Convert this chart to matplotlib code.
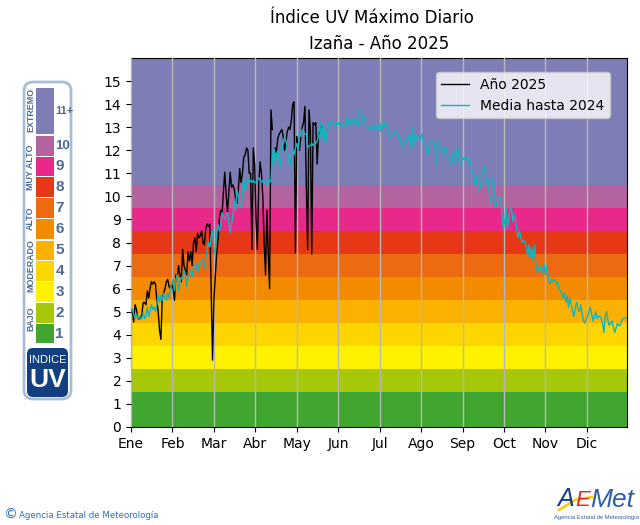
import matplotlib
matplotlib.use('Agg')
import matplotlib.pyplot as plt
from matplotlib.patches import FancyBboxPatch, Rectangle
import numpy as np

nan = float('nan')

monthLabels = ['Ene', 'Feb', 'Mar', 'Abr', 'May', 'Jun', 'Jul', 'Ago', 'Sep', 'Oct', 'Nov', 'Dic']

# UV 2025, one value a day, stops mid May
uv2025 = [5.0, 5.1, 4.55, 5.3, 5.1, 4.7, 4.7, 4.7, 4.9, 5.4, 5.4,
          5.3, 5.9, 5.6, 6.0, 6.3, 6.2, 6.3, 6.2, 5.5, 5.0, 4.2, 3.8, 5.6, 5.8, 6.0,
          6.3, 6.4, 6.1, 6.0, 6.2, 6.0, 5.5, 6.6, 6.4, 7.0, 6.6, 6.3, 7.7, 7.0, 6.8,
          6.6, 7.6, 7.2, 7.6, 7.0, 8.0, 8.2, 7.6, 8.4, 8.2, 8.3, 8.5, 8.0, 7.9, 8.6,
          8.8, 8.7, 8.8, 6.0, 2.9, 5.5, 6.5, 7.5, 8.1, 9.0, 9.4, 9.2, 10.2, 11.05,
          10.1, 9.3, 10.2, 11.05, 10.4, 10.5, 10.3, 9.9, 9.7, 10.3, 11.2, 10.6, 11.0,
          11.7, 11.8, 12.1, 12.0, 11.0, 11.0, 7.7, 12.1, 11.4, 9.0, 7.7, 10.5, 11.5,
          11.0, 10.0, 8.0, 6.6, 9.4, 7.5, 6.0, 13.75, 12.9, nan, 12.1, 11.9, 12.5,
          12.7, 12.8, 12.9, 12.6, 12.0, 12.4, 12.8, 13.0, 12.9, 13.3, 14.0, 14.1, 7.55,
          12.6, 12.2, 12.0, 12.6, 13.0, 13.2, 13.9, 10.5, 7.7, 13.75, 12.9, 7.5, 13.2,
          13.1, 13.2, 11.4, 12.7, 12.8, 13.0]

# historic mean up to 2024, month by month
mediaEne = [5.0, 5.1, 4.9, 4.7, 4.9, 4.7, 4.8, 4.7, 4.7, 5.0, 4.7, 4.8, 5.2, 4.8, 5.0, 5.3,
            5.1, 5.2, 5.0, 5.3, 5.7, 5.4, 5.7, 5.5, 5.8, 5.6, 5.5, 5.8, 5.6, 6.0, 6.2]
mediaFeb = [6.4, 5.9, 6.4, 6.6, 5.9, 6.3, 6.5, 6.4, 6.8, 6.6, 6.1, 6.5, 6.6, 6.8, 6.5, 6.9,
            7.0, 7.1, 6.7, 7.0, 7.1, 7.2, 7.3, 6.9, 7.3, 7.7, 8.0, 7.8]
mediaMar = [8.3, 8.5, 7.8, 7.5, 8.4, 8.8, 8.5, 8.7, 9.3, 9.1, 9.0, 9.2, 9.3, 8.9, 8.4, 8.8,
            9.2, 9.8, 9.4, 10.3, 10.0, 9.7, 9.5, 10.1, 10.8, 10.2, 10.4, 10.8, 10.6, 10.7, 10.6]
mediaAbr = [10.7, 10.6, 10.6, 10.7, 10.8, 10.7, 10.6, 10.7, 10.6, 10.6, 10.5, 10.8, 10.6, 10.7,
            11.7, 12.1, 11.4, 11.8, 12.0, 11.6, 11.3, 11.9, 12.3, 12.6, 12.4, 12.0, 11.6, 11.3,
            11.7, 12.0]
mediaMay = [11.8, 12.1, 12.3, 12.0, 12.8, 12.6, 12.9, 12.8, 12.7, 12.7, 12.1, 12.2, 12.2, 12.3,
            12.2, 12.3, 12.3, 12.4, 12.6, 13.2, 12.5, 13.1, 12.3, 13.0, 12.4, 13.2, 13.1, 13.2,
            13.2, 13.1, 13.0]
mediaJun = [13.2, 13.1, 13.2, 13.0, 13.1, 13.2, 13.1, 13.0, 13.5, 13.2, 13.3, 13.1, 13.3, 13.2,
            13.4, 13.1, 13.0, 13.7, 13.75, 13.6, 13.2, 13.4, 13.0, 13.0, 12.9, 13.0, 12.9, 13.1,
            12.8, 13.1]
mediaJul = [13.0, 12.9, 13.2, 12.8, 13.1, 13.0, 13.2, 13.1, 12.9, 12.6, 12.5, 12.7, 12.7, 12.8,
            12.8, 12.9, 12.5, 12.5, 12.3, 12.1, 12.4, 12.3, 12.5, 12.5, 12.7, 12.1, 13.0, 12.1,
            12.7, 12.5, 12.6]
mediaAgo = [12.5, 12.5, 12.7, 12.3, 12.3, 12.3, 11.8, 12.0, 12.3, 12.4, 12.4, 12.3, 12.0, 11.4,
            12.4, 12.1, 12.2, 11.8, 11.9, 12.1, 12.1, 11.7, 11.6, 11.4, 11.5, 11.9, 11.4, 11.7,
            12.1, 11.9, 11.3]
mediaSep = [11.5, 11.7, 11.6, 11.7, 11.6, 11.7, 11.4, 11.5, 11.1, 11.0, 10.6, 10.9, 10.3, 10.2,
            10.4, 10.9, 11.1, 11.3, 10.9, 10.6, 10.7, 9.9, 9.7, 10.8, 10.4, 9.5, 9.7, 9.9, 10.0, 9.9]
mediaOct = [9.2, 8.6, 8.9, 9.5, 8.6, 9.0, 9.5, 9.5, 8.9, 9.2, 9.0, 8.5, 8.2, 8.5, 8.2, 8.0, 8.1,
            8.0, 7.8, 7.4, 7.9, 7.4, 7.8, 7.2, 7.9, 7.0, 6.7, 6.9, 6.8, 7.0, 6.7]
mediaNov = [7.1, 6.6, 7.0, 6.5, 6.2, 6.3, 6.4, 6.3, 6.4, 6.2, 6.3, 6.0, 5.9, 5.8, 5.6, 5.8, 5.4,
            5.7, 5.2, 5.6, 5.3, 5.0, 4.8, 5.2, 5.4, 5.1, 5.0, 5.3, 4.9, 4.6]
mediaDic = [4.5, 4.7, 4.8, 5.0, 5.2, 4.9, 4.6, 4.8, 5.0, 4.7, 4.8, 4.8, 4.7, 4.5, 4.1, 4.8, 5.0,
            4.6, 4.4, 4.5, 4.6, 4.3, 4.1, 4.3, 4.5, 4.4, 4.4, 4.6, 4.7, 4.7, 4.75]
media = (mediaEne + mediaFeb + mediaMar + mediaAbr + mediaMay + mediaJun
         + mediaJul + mediaAgo + mediaSep + mediaOct + mediaNov + mediaDic)

bandEdges = [0, 1.5, 2.5, 3.5, 4.5, 5.5, 6.5, 7.5, 8.5, 9.5, 10.5, 16]
bandColors = ['#41A62F', '#A6C808', '#FFF200', '#FFD500', '#FBB100', '#F38B00',
              '#EC6A10', '#E63716', '#E8298A', '#B3649E', '#7F7DB5']

scaleLabels = ['1', '2', '3', '4', '5', '6', '7', '8', '9', '10', '11+']
scaleTops = [324, 303, 282, 261, 241, 219, 198, 177, 157, 136, 88]
scaleBottoms = [343, 323, 302, 281, 260, 239, 218, 197, 176, 156, 134]
levelNames = ['BAJO', 'MODERADO', 'ALTO', 'MUY ALTO', 'EXTREMO']
levelCenters = [319, 266, 218, 167, 110]

fig = plt.figure(figsize=(6.4, 5.25), dpi=100)
ax = fig.add_axes([131 / 640, 98 / 525, 496 / 640, 369 / 525])

for i in range(len(bandColors)):
    ax.axhspan(bandEdges[i], bandEdges[i + 1], color=bandColors[i], lw=0, zorder=0)

ax.plot(np.arange(len(uv2025)), uv2025, color='black', lw=1, label='Año 2025', zorder=3)
ax.plot(np.arange(len(media)), media, color='#12B5BE', lw=1, label='Media hasta 2024', zorder=4)

ax.set_xlim(0, 365)
ax.set_ylim(0, 16)
ax.set_yticks(range(16))
ax.set_xticks(np.arange(12) * 30.5)
ax.set_xticklabels(monthLabels)
ax.grid(axis='x', color='#b8b8b8', lw=1, zorder=2)
ax.set_axisbelow(False)
ax.legend(loc='upper right', bbox_to_anchor=(0.966, 0.962), borderaxespad=0, fontsize=10)

fig.text(372 / 640, 1 - 18 / 525, 'Índice UV Máximo Diario', ha='center', va='center', fontsize=12)
fig.text(379 / 640, 1 - 44 / 525, 'Izaña - Año 2025', ha='center', va='center', fontsize=12)

# overlay in pixels for the scale panel and the footer
over = fig.add_axes([0, 0, 1, 1], zorder=10)
over.set_xlim(0, 640)
over.set_ylim(525, 0)
over.axis('off')
over.patch.set_alpha(0)

sans = 'Liberation Sans'
over.add_patch(FancyBboxPatch((24, 82), 47, 317, boxstyle='round,pad=0,rounding_size=9',
                              fc='white', ec='#A9BDD6', lw=2))
for i in range(len(scaleLabels)):
    over.add_patch(Rectangle((36, scaleTops[i]), 18, scaleBottoms[i] - scaleTops[i],
                             fc=bandColors[i], ec='none'))
    size = 11
    if len(scaleLabels[i]) == 2:
        size = 9.5
    if len(scaleLabels[i]) == 3:
        size = 8
    over.text(55.5, (scaleTops[i] + scaleBottoms[i]) / 2, scaleLabels[i], color='#4F6A94',
              family=sans, fontsize=size, fontweight='bold', ha='left', va='center')
for name, yc in zip(levelNames, levelCenters):
    over.text(30.5, yc, name, color='#4F6A94', fontsize=6.4, fontweight='bold', rotation=90,
              ha='center', va='center', family=sans)
over.add_patch(FancyBboxPatch((27, 348), 41, 49, boxstyle='round,pad=0,rounding_size=6',
                              fc='#123F7F', ec='none'))
over.text(47.5, 360, 'INDICE', color='white', fontsize=8, ha='center', va='center', family=sans)
over.text(47.5, 380, 'UV', color='white', fontsize=19, fontweight='bold', ha='center', va='center',
          family=sans)

# footer
over.text(3, 515, '©', color='#2D6FC0', fontsize=10, ha='left', va='center')
over.text(19, 515, 'Agencia Estatal de Meteorología', color='#2D6FC0', fontsize=6.2,
          ha='left', va='center')
over.plot([559, 575, 592], [510, 500, 497], color='#F7D117', lw=2)
over.text(557, 499, 'A', color='#123F8F', fontsize=18, style='italic', ha='left', va='center', family=sans)
over.text(575, 500, 'E', color='#D8301F', fontsize=16, style='italic', ha='left', va='center', family=sans)
over.text(590.5, 500, 'Met', color='#2F5FA8', fontsize=19, style='italic', ha='left', va='center', family=sans)
over.text(597, 518, 'Agencia Estatal de Meteorología', color='#2F5FA8', fontsize=4.2,
          ha='center', va='center', family=sans)

fig.savefig('out.png', dpi=100)
